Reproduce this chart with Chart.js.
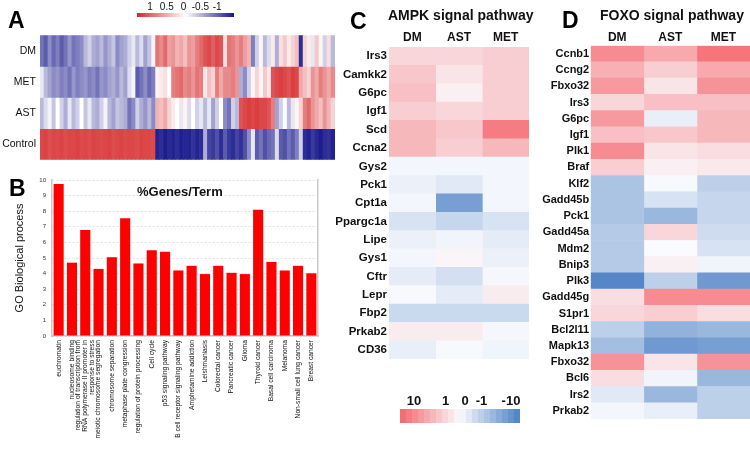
<!DOCTYPE html>
<html>
<head>
<meta charset="utf-8">
<script src="https://cdn.jsdelivr.net/npm/chart.js@4.4.1/dist/chart.umd.min.js"></script>
<style>
  body { margin: 0; background: #fff; font-family: "Liberation Sans", Arial, sans-serif; }
  #page { position: relative; width: 750px; height: 452px; overflow: hidden; }
  .box { position: absolute; }
  .letter { position: absolute; font-weight: bold; font-size: 23px; line-height: 1; color: #000; }
  .title { position: absolute; font-weight: bold; font-size: 14px; line-height: 1; color: #111; white-space: nowrap; }
  .lab { position: absolute; white-space: nowrap; line-height: 1; transform: translateX(-50%); color: #111; }
</style>
</head>
<body>
<div id="page">
  <div class="box" style="left:0;top:25px"><canvas id="heatA" width="340" height="145"></canvas></div>
  <div class="box" style="left:0;top:170px"><canvas id="barB" width="340" height="282"></canvas></div>
  <div class="box" style="left:330px;top:28px"><canvas id="heatC" width="210" height="340"></canvas></div>
  <div class="box" style="left:530px;top:28px"><canvas id="heatD" width="220" height="400"></canvas></div>

  <div class="letter" style="left:8px;top:9px">A</div>
  <div class="letter" style="left:9px;top:177px">B</div>
  <div class="letter" style="left:350px;top:10px">C</div>
  <div class="letter" style="left:562px;top:9px">D</div>

  <div class="title" style="left:388px;top:7.5px">AMPK signal pathway</div>
  <div class="title" style="left:600px;top:7.5px">FOXO signal pathway</div>
  <div class="title" style="left:137px;top:185px;font-size:13px">%Genes/Term</div>

  <div id="legendA"></div>
  <div id="legendC"></div>
</div>

<script>
// panel A: z-scores per group, one value per gene column (left to right)
const rowsA = ['DM', 'MET', 'AST', 'Control'];
const dmA = [
  -0.6, -0.7, -0.5, -0.65, -0.55, -0.7, -0.6, -0.45, -0.6, -0.55, -0.5,
  -0.3, -0.2, -0.35, -0.4, -0.3, -0.45, -0.35, -0.25, -0.5, -0.4,
  -0.35, -0.2, -0.1, -0.3, -0.15, -0.4, -0.25, -0.05,
  0.65, 0.55, 0.7, 0.45, 0.5, 0.35, 0.4, 0.3, 0.5, 0.45, 0.6, 0.7,
  0.8, 0.85, 0.75, 0.85, 0.8, 0.15, 0.65, 0.6, 0.5, 0.6, 0.45, 0.35,
  -0.55,
  -0.2, 0.05, -0.3, -0.15, 0.1, -0.35,
  0.15, 0.25, 0.1, 0.2, 0.3, -0.9,
  0.2, 0.1, -0.1, 0.25, 0.05, -0.2, 0.15, -0.3
];
const metA = [
  -0.1, -0.3, -0.4, -0.5, -0.45, -0.55, -0.5, -0.6, -0.45, -0.55, -0.5,
  -0.45, -0.55, -0.5, -0.6, -0.45, -0.5, -0.4, -0.35, -0.45, -0.3,
  -0.4, -0.15, -0.05, -0.7, -0.6, -0.5, -0.65, -0.55,
  0.05, 0.1, 0.15, 0.0, 0.6, 0.65, 0.7, 0.55, 0.6, 0.5, 0.65, 0.6,
  0.1, 0.3, 0.2, 0.6, 0.4, 0.55, 0.55, 0.6, 0.5, -0.35, -0.5, -0.2,
  0.05,
  0.2, 0.05, 0.25, 0.1,
  0.8, 0.85, 0.9, 0.85, 0.8, 0.9, 0.85,
  0.4,
  0.3, 0.2, 0.5, 0.4, 0.6, 0.5, 0.4, 0.55
];
const astA = [
  -0.3, -0.15, -0.05, -0.25, 0.0, -0.2, -0.35, -0.1, -0.3, -0.2, 0.0,
  -0.25, -0.1, -0.3, -0.35, -0.2, -0.05, -0.3, -0.4, -0.25, -0.3,
  -0.35, -0.6, -0.5, -0.2, -0.35, -0.45, -0.3, -0.5,
  0.35, 0.3, 0.4, 0.2, 0.1, 0.0, -0.1, 0.05, -0.15, 0.0, -0.2, -0.1,
  -0.3, -0.1, -0.4, -0.2, 0.0, -0.5, -0.6, -0.2,
  -0.3, 0.8, 0.85, 0.9,
  0.85,
  0.9, 0.85, 0.85, 0.8, 0.6,
  -0.4, -0.2, 0.0, -0.3, -0.1, 0.05, 0.2,
  0.6, 0.7, 0.5, 0.4, 0.3, 0.5, 0.35, 0.2
];
const controlA = [
  0.85, 0.88, 0.82, 0.86, 0.84, 0.87, 0.83, 0.86, 0.85, 0.88, 0.84, 0.86, 0.83, 0.87, 0.85,
  0.84, 0.86, 0.88, 0.83, 0.85, 0.87, 0.84, 0.86, 0.85, 0.83, 0.87, 0.85, 0.86, 0.84,
  -0.95, -0.9, -0.97, -0.92, -0.95, -0.9, -0.96, -0.93, -0.95, -0.88, -0.94, -0.9,
  -0.35, -0.8, -0.85, -0.75, -0.9, -0.7, -0.85, -0.9, -0.8, -0.88, -0.75, -0.5,
  -0.1,
  -0.7, -0.6, -0.75, -0.65, -0.6, -0.15, -0.7, -0.75, -0.6, -0.7, -0.55,
  -0.2,
  -0.9, -0.95, -0.85, -0.92, -0.97, -0.9, -0.88, -0.95
];
const legendTicksA = ['1', '0.5', '0', '-0.5', '-1'];

// panel B: %Genes/Term
const goTerms = [
  'euchromatin', 'nucleosome binding',
  ['regulation of transcription from', 'RNA polymerase II promoter in', 'response to stress'],
  'meiotic chromosome segregation', 'chromosome separation', 'metaphase plate congression',
  'regulation of protein processing', 'Cell cycle', 'p53 signaling pathway',
  'B cell receptor signaling pathway', 'Amphetamine addiction', 'Leishmaniasis',
  'Colorectal cancer', 'Pancreatic cancer', 'Glioma', 'Thyroid cancer',
  'Basal cell carcinoma', 'Melanoma', 'Non-small cell lung cancer', 'Breast cancer'
];
const goPercent = [9.75, 4.7, 6.8, 4.3, 5.05, 7.55, 4.65, 5.5, 5.4, 4.2,
                   4.5, 3.97, 4.5, 4.05, 3.97, 8.1, 4.75, 4.2, 4.5, 4.02];

// panels C and D: relative expression (log-like score, +1 strongest up, -1 strongest down)
const groups = ['DM', 'AST', 'MET'];
const ampkGenes = ['Irs3', 'Camkk2', 'G6pc', 'Igf1', 'Scd', 'Ccna2', 'Gys2', 'Pck1', 'Cpt1a',
                   'Ppargc1a', 'Lipe', 'Gys1', 'Cftr', 'Lepr', 'Fbp2', 'Prkab2', 'CD36'];
const ampkDM  = [0.25, 0.35, 0.4, 0.3, 0.45, 0.45, -0.04, -0.08, -0.04, -0.2, -0.08, -0.04, -0.12, -0.02, -0.28, 0.1, -0.1];
const ampkAST = [0.25, 0.15, 0.08, 0.25, 0.35, 0.3, -0.04, -0.15, -0.75, -0.3, -0.05, 0.04, -0.22, -0.12, -0.28, 0.1, -0.02];
const ampkMET = [0.3, 0.3, 0.3, 0.3, 0.85, 0.45, -0.04, -0.04, -0.04, -0.2, -0.12, -0.08, -0.03, 0.1, -0.28, -0.03, -0.06];

const foxoGenes = ['Ccnb1', 'Ccng2', 'Fbxo32', 'Irs3', 'G6pc', 'Igf1', 'Plk1', 'Braf', 'Klf2',
                   'Gadd45b', 'Pck1', 'Gadd45a', 'Mdm2', 'Bnip3', 'Plk3', 'Gadd45g', 'S1pr1',
                   'Bcl2l11', 'Mapk13', 'Fbxo32', 'Bcl6', 'Irs2', 'Prkab2'];
const foxoDM  = [0.75, 0.5, 0.65, 0.25, 0.65, 0.4, 0.75, 0.3, -0.45, -0.45, -0.45, -0.4, -0.4, -0.4, -0.95, 0.2, 0.25, -0.35, -0.5, 0.7, 0.2, -0.15, -0.04];
const foxoAST = [0.55, 0.3, 0.15, 0.4, -0.1, 0.35, 0.15, 0.08, -0.02, -0.2, -0.55, 0.25, 0.0, 0.08, -0.35, 0.75, 0.3, -0.6, -0.8, 0.15, -0.05, -0.55, -0.1];
const foxoMET = [0.9, 0.55, 0.7, 0.4, 0.45, 0.45, 0.2, 0.12, -0.35, -0.3, -0.3, -0.25, -0.2, -0.06, -0.8, 0.75, 0.2, -0.55, -0.75, 0.7, -0.55, -0.35, -0.35];
const legendTicksC = ['10', '1', '0', '-1', '-10'];

const FONT = '"Liberation Sans", Arial, sans-serif';

function mix(a, b, t) {
  return a.map((v, i) => Math.round(v + (b[i] - v) * t));
}
function colorA(v) {
  const c = v >= 0 ? mix([255, 255, 255], [214, 40, 42], v) : mix([255, 255, 255], [22, 22, 138], -v);
  return 'rgb(' + c.join(',') + ')';
}
function colorH(v) {
  const c = v >= 0 ? mix([250, 251, 254], [244, 102, 108], v) : mix([250, 251, 254], [76, 128, 196], -v);
  return 'rgb(' + c.join(',') + ')';
}

// heatmap A
const valuesA = [dmA, metA, astA, controlA];
new Chart(document.getElementById('heatA'), {
  type: 'bar',
  data: {
    labels: dmA.map((_, i) => i + 1),
    datasets: rowsA.map((name, r) => ({
      label: name,
      data: valuesA[r].map(() => [r, r + 1]),
      backgroundColor: valuesA[r].map(colorA),
      grouped: false,
      barPercentage: 1,
      categoryPercentage: 1,
      borderWidth: 0
    }))
  },
  options: {
    responsive: false,
    animation: false,
    layout: { padding: { top: 6.7, right: 5, bottom: 5.7, left: 0 } },
    plugins: { legend: { display: false }, tooltip: { enabled: false } },
    scales: {
      x: { display: false },
      y: {
        min: 0, max: 4, reverse: true,
        grid: { display: false, drawTicks: false },
        border: { display: false },
        afterBuildTicks: s => { s.ticks = rowsA.map((_, i) => ({ value: i + 0.5 })); },
        ticks: { padding: 4, color: '#111', font: { size: 10.5, family: FONT }, callback: v => rowsA[Math.floor(v)] },
        afterFit: s => { s.width = 40; }
      }
    }
  }
});

// bar chart B
// rotated multi-line labels start at the tick; shift them so the block is centred on its bar
function centreMultiline(s) {
  if (s._centred) return;
  const base = s._computeLabelItems;
  s._computeLabelItems = function (area) {
    const items = base.call(this, area);
    items.forEach(it => {
      if (Array.isArray(it.label) && it.label.length > 1) {
        const lh = (it.font && it.font.lineHeight) || 7.4;
        it.options.translation[0] -= (it.label.length - 1) / 2 * lh;
      }
    });
    return items;
  };
  s._centred = true;
}

new Chart(document.getElementById('barB'), {
  type: 'bar',
  data: {
    labels: goTerms,
    datasets: [{
      data: goPercent,
      backgroundColor: '#ff0000',
      borderWidth: 0,
      barPercentage: 0.76,
      categoryPercentage: 1
    }]
  },
  options: {
    responsive: false,
    animation: false,
    layout: { padding: { top: 10, right: 0, bottom: 0, left: 0 } },
    plugins: { legend: { display: false }, tooltip: { enabled: false } },
    scales: {
      x: {
        grid: { display: false, drawTicks: false },
        border: { display: true, color: '#c8c8c8', width: 1.5 },
        ticks: { autoSkip: false, minRotation: 90, maxRotation: 90, padding: 4, color: '#111',
                 font: { size: 6.7, family: FONT, lineHeight: 1.1 } },
        afterFit: s => { s.height = 116; centreMultiline(s); }
      },
      y: {
        min: 0, max: 10,
        ticks: { stepSize: 1, padding: 6, color: '#333', font: { size: 6, family: FONT } },
        grid: { color: '#e2e2e2', drawTicks: false },
        border: { color: '#c8c8c8', width: 1.5, dash: [2, 2] },
        title: { display: true, text: 'GO Biological process', color: '#111',
                 font: { size: 11, family: FONT }, padding: { top: 13, bottom: 0 } },
        afterFit: s => { s.width = 52; }
      },
      y2: {
        position: 'right',
        grid: { display: false, drawTicks: false },
        ticks: { display: false },
        border: { color: '#c8c8c8', width: 1.5 },
        afterFit: s => { s.width = 22; }
      }
    }
  }
});

// heatmaps C and D
function drawPathway(id, genes, cols, o) {
  new Chart(document.getElementById(id), {
    type: 'bar',
    data: {
      labels: genes,
      datasets: cols.map((vals, c) => ({
        label: groups[c],
        data: vals.map(() => [c, c + 1]),
        backgroundColor: vals.map(colorH),
        grouped: false,
        barPercentage: 1,
        categoryPercentage: 1,
        borderWidth: 0
      }))
    },
    options: {
      indexAxis: 'y',
      responsive: false,
      animation: false,
      layout: { padding: { top: 0, right: o.right, bottom: o.bottom, left: 0 } },
      plugins: { legend: { display: false }, tooltip: { enabled: false } },
      scales: {
        x: {
          type: 'linear', position: 'top', min: 0, max: 3,
          grid: { display: false, drawTicks: false },
          border: { display: false },
          afterBuildTicks: s => { s.ticks = groups.map((_, i) => ({ value: i + 0.5 })); },
          ticks: { padding: o.headPad, maxRotation: 0, autoSkip: false, color: '#111',
                   font: { size: 12, weight: 'bold', family: FONT }, callback: v => groups[Math.floor(v)] },
          afterFit: s => { s.height = o.head; }
        },
        y: {
          grid: { display: false, drawTicks: false },
          border: { display: false },
          ticks: { padding: o.labPad, autoSkip: false, color: '#111',
                   font: { size: o.font, weight: 'bold', family: FONT } },
          afterFit: s => { s.width = o.labW; }
        }
      }
    }
  });
}
drawPathway('heatC', ampkGenes, [ampkDM, ampkAST, ampkMET],
            { right: 11, bottom: 6.3, head: 19, headPad: 2.3, labW: 59, labPad: 2, font: 11.5 });
drawPathway('heatD', foxoGenes, [foxoDM, foxoAST, foxoMET],
            { right: 0, bottom: 9, head: 17.7, headPad: 1, labW: 60.7, labPad: 1.5, font: 11 });

// colour keys
const legA = document.getElementById('legendA');
const barA = document.createElement('div');
barA.style.cssText = 'position:absolute;left:137px;top:13px;width:97px;height:4px;' +
  'background:linear-gradient(to right,' + colorA(1) + ',#fff,' + colorA(-1) + ');';
legA.appendChild(barA);
legendTicksA.forEach((t, i) => {
  const d = document.createElement('div');
  d.className = 'lab';
  d.style.cssText += 'left:' + (150 + i * 16.8) + 'px;top:1.7px;font-size:10px;';
  d.textContent = t;
  legA.appendChild(d);
});

const legC = document.getElementById('legendC');
for (let i = 0; i < 20; i++) {
  const d = document.createElement('div');
  d.style.cssText = 'position:absolute;left:' + (400 + i * 6) + 'px;top:409px;width:6px;height:14px;background:' +
    colorH(1 - (i + 0.5) / 10) + ';';
  legC.appendChild(d);
}
const legCPos = [414, 445.5, 465, 481.5, 511];
legendTicksC.forEach((t, i) => {
  const d = document.createElement('div');
  d.className = 'lab';
  d.style.cssText += 'left:' + legCPos[i] + 'px;top:394px;font-size:13px;font-weight:bold;';
  d.textContent = t;
  legC.appendChild(d);
});
</script>
</body>
</html>
